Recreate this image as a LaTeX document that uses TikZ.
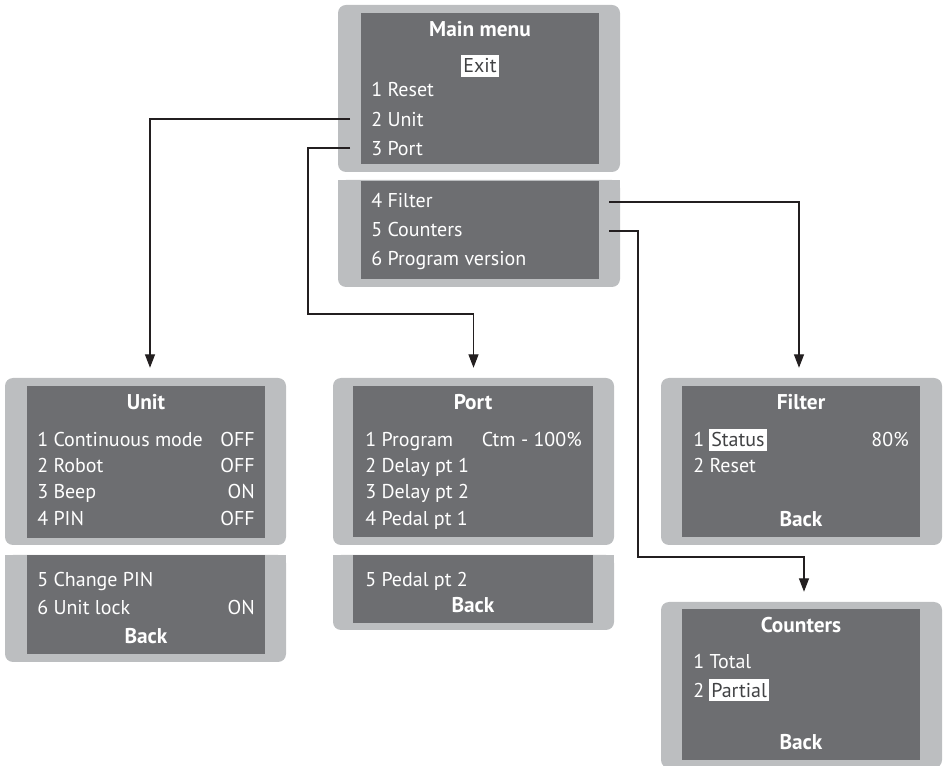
\documentclass[tikz,border=0pt]{standalone}
\usepackage{fontspec}
\setmainfont{PT Sans}
\usetikzlibrary{calc,fit,arrows.meta}
\definecolor{screen}{HTML}{6D6E71}
\definecolor{bezel}{HTML}{BCBEC0}
\definecolor{wire}{HTML}{231F20}
\newcommand{\lcd}{\fontsize{15}{18}\selectfont}
\newcommand{\lcdbig}{\fontsize{16}{19}\selectfont\bfseries}
\tikzset{
  bezelbox/.style={fill=bezel, rounded corners=6pt, inner sep=0pt},
  scr/.style={fill=screen, inner sep=0pt},
  item/.style={text=white, anchor=base west, inner sep=0pt, font=\lcd},
  val/.style={text=white, anchor=base east, inner sep=0pt, font=\lcd},
  ttl/.style={text=white, anchor=base, inner sep=0pt, font=\lcdbig},
  sel/.style={fill=white, text=screen!60!black, anchor=base west, inner xsep=1.5pt, inner ysep=2.6pt, font=\lcd},
  link/.style={draw=wire, line width=0.8pt, -{Triangle[length=10pt,width=7.5pt]}, shorten >=7.5pt},
}
\begin{document}
\begin{tikzpicture}[x=0.75pt, y=-0.75pt]
  \useasboundingbox (0,0) rectangle (947,766);
  % bezels
  \node[bezelbox, fit={(338,5) (620,172)}] (mainA) {};
  \node[bezelbox, fit={(338,180) (620,287)}] (mainB) {};
  \fill[bezel] (mainB.north west) rectangle (mainB.east);
  \node[bezelbox, fit={(5,378) (286,545)}] (unitA) {};
  \node[bezelbox, fit={(5,555) (286,662)}] (unitB) {};
  \fill[bezel] (unitB.north west) rectangle (unitB.east);
  \node[bezelbox, fit={(333,378) (614,545)}] (portA) {};
  \node[bezelbox, fit={(333,555) (614,630)}] (portB) {};
  \fill[bezel] (portB.north west) rectangle (portB.east);
  \node[bezelbox, fit={(661,378) (942,545)}] (filA) {};
  \node[bezelbox, fit={(661,602) (942,768)}] (cntA) {};
  % screens
  \node[scr, fit={(361,13) (599,164)}] (mainS) {};
  \node[scr, fit={(361,181) (599,279)}] (mainT) {};
  \node[scr, fit={(27,386) (265,538)}] (unitS) {};
  \node[scr, fit={(27,555) (265,654)}] (unitT) {};
  \node[scr, fit={(353,386) (593,537)}] (portS) {};
  \node[scr, fit={(353,555) (593,623)}] (portT) {};
  \node[scr, fit={(682,386) (920,537)}] (filS) {};
  \node[scr, fit={(682,609) (920,760)}] (cntS) {};

  % main menu
  \node[ttl] (mTtl) at (480,37) {Main menu};
  \node[sel, anchor=base] (mExit) at (480,73) {Exit};
  \node[item] (m1) at (371,97) {1 Reset};
  \node[item] (m2) at (371,127) {2 Unit};
  \node[item] (m3) at (371,156) {3 Port};
  \node[item] (m4) at (371,208) {4 Filter};
  \node[item] (m5) at (371,237) {5 Counters};
  \node[item] (m6) at (371,266) {6 Program version};

  % unit
  \node[ttl] (uTtl) at (146,410) {Unit};
  \node[item] (u1) at (37,447) {1 Continuous mode};
  \node[val] (u1v) at (255,447) {OFF};
  \node[item] (u2) at (37,473) {2 Robot};
  \node[val] (u2v) at (255,473) {OFF};
  \node[item] (u3) at (37,499) {3 Beep};
  \node[val] (u3v) at (255,499) {ON};
  \node[item] (u4) at (37,526) {4 PIN};
  \node[val] (u4v) at (255,526) {OFF};
  \node[item] (u5) at (37,587) {5 Change PIN};
  \node[item] (u6) at (37,615) {6 Unit lock};
  \node[val] (u6v) at (255,615) {ON};
  \node[ttl] (uBack) at (146,643) {Back};

  % port
  \node[ttl] (pTtl) at (473,410) {Port};
  \node[item] (p1) at (365,447) {1 Program};
  \node[val] (p1v) at (582,447) {Ctm - 100\%};
  \node[item] (p2) at (365,473) {2 Delay pt 1};
  \node[item] (p3) at (365,499) {3 Delay pt 2};
  \node[item] (p4) at (365,526) {4 Pedal pt 1};
  \node[item] (p5) at (365,587) {5 Pedal pt 2};
  \node[ttl] (pBack) at (473,613) {Back};

  % filter
  \node[ttl] (fTtl) at (801,410) {Filter};
  \node[item] (f1) at (693,447) {1};
  \node[sel] (f1s) at (709,447) {Status};
  \node[val] (f1v) at (909,447) {80\%};
  \node[item] (f2) at (693,473) {2 Reset};
  \node[ttl] (fBack) at (801,527) {Back};

  % counters
  \node[ttl] (cTtl) at (801,633) {Counters};
  \node[item] (c1) at (693,668) {1 Total};
  \node[item] (c2) at (693,697) {2};
  \node[sel] (c2s) at (709,697) {Partial};
  \node[ttl] (cBack) at (801,749) {Back};

  % connectors
  \coordinate (uOut) at (350,119);
  \coordinate (pOut) at (350,148);
  \coordinate (pBend) at (308,314);
  \coordinate (fOut) at (609,202);
  \coordinate (cOut) at (609,231);
  \coordinate (cBend) at (638,557);
  \draw[link] (uOut) -| ($(unitA.north)+(4.5,0)$);
  \draw[link] (pOut) -| (pBend) -| (portA.north);
  \draw[link] (fOut) -| ($(filA.north)+(-2.5,0)$);
  \draw[link] (cOut) -| (cBend) -| ($(cntA.north)+(2.5,0)$);
\end{tikzpicture}
\end{document}
